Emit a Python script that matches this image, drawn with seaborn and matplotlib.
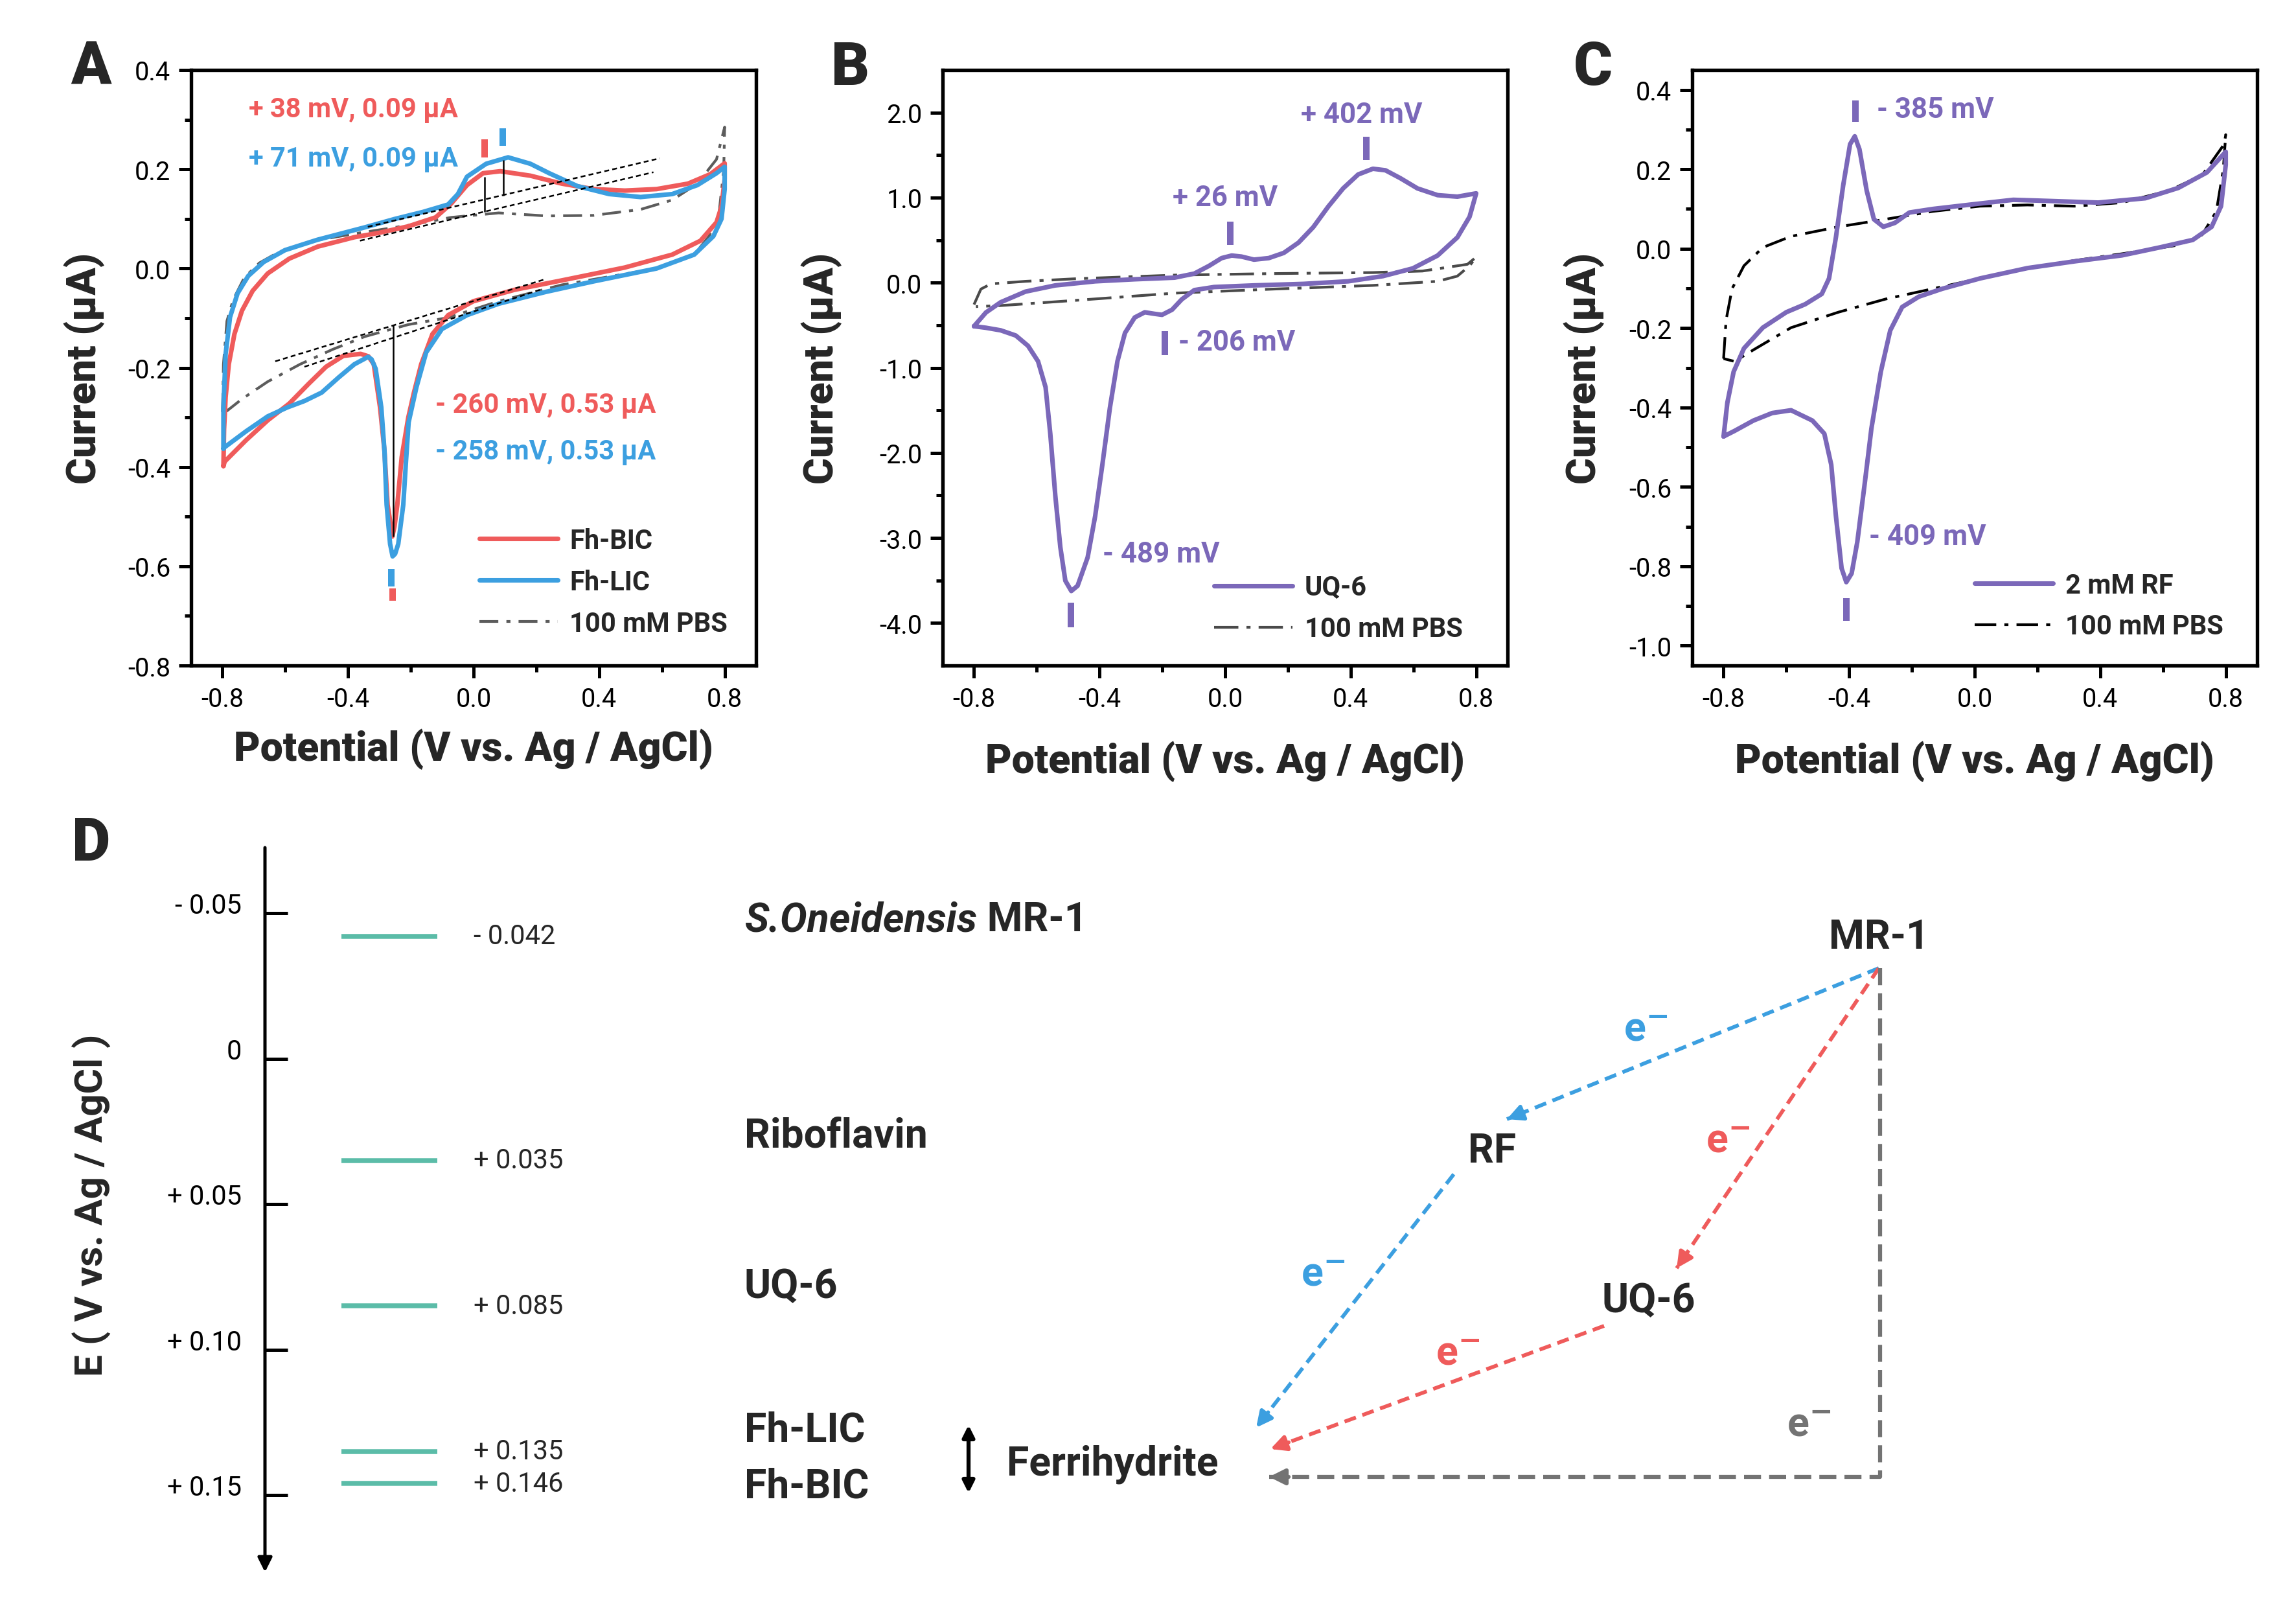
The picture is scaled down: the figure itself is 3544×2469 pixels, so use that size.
import matplotlib.pyplot as plt
import numpy as np
import seaborn as sns

W, H = 3544, 2470  # output size in px (300 dpi)

RED = '#EF5B5B'
BLUE = '#3C9FE0'
PURPLE = '#7B68B9'
TEAL = '#5BBCA8'
ARROW_GRAY = '#737373'

# ---------------- A: Fh-BIC / Fh-LIC ----------------
a_bic_x = [-0.797, -0.795, -0.790, -0.780, -0.762, -0.738, -0.704, -0.656, -0.587, -0.497, -0.380,
           -0.300, -0.208, -0.121, -0.071, -0.021, 0.030, 0.085, 0.181, 0.281, 0.382, 0.482, 0.583,
           0.683, 0.754, 0.800, 0.800, 0.790, 0.774, 0.723, 0.633, 0.482, 0.281, 0.130, -0.001,
           -0.081, -0.131, -0.167, -0.190, -0.208, -0.229, -0.243, -0.252, -0.259, -0.268, -0.274,
           -0.284, -0.298, -0.318, -0.335, -0.360, -0.415, -0.470, -0.525, -0.587, -0.656, -0.725,
           -0.793, -0.797]
a_bic_y = [-0.398, -0.324, -0.259, -0.193, -0.132, -0.085, -0.045, -0.010, 0.020, 0.044, 0.063,
           0.072, 0.085, 0.103, 0.131, 0.168, 0.192, 0.196, 0.187, 0.171, 0.160, 0.157, 0.160,
           0.171, 0.190, 0.212, 0.180, 0.125, 0.093, 0.056, 0.028, 0.002, -0.024, -0.043, -0.066,
           -0.094, -0.132, -0.193, -0.250, -0.300, -0.380, -0.476, -0.520, -0.540, -0.500, -0.476,
           -0.367, -0.280, -0.193, -0.177, -0.172, -0.176, -0.198, -0.232, -0.272, -0.306, -0.346,
           -0.389, -0.398]

a_lic_x = [-0.797, -0.797, -0.790, -0.776, -0.752, -0.718, -0.669, -0.601, -0.497, -0.346, -0.250,
           -0.161, -0.081, -0.050, -0.021, 0.040, 0.110, 0.181, 0.241, 0.331, 0.432, 0.532, 0.633,
           0.713, 0.774, 0.800, 0.800, 0.790, 0.764, 0.703, 0.583, 0.382, 0.231, 0.080, -0.021,
           -0.101, -0.151, -0.182, -0.207, -0.215, -0.224, -0.240, -0.250, -0.258, -0.266, -0.277,
           -0.284, -0.294, -0.312, -0.325, -0.336, -0.380, -0.429, -0.484, -0.539, -0.594, -0.656,
           -0.725, -0.793, -0.797]
a_lic_y = [-0.363, -0.280, -0.172, -0.098, -0.050, -0.015, 0.013, 0.037, 0.058, 0.083, 0.100,
           0.114, 0.129, 0.150, 0.185, 0.211, 0.224, 0.211, 0.192, 0.166, 0.150, 0.144, 0.150,
           0.168, 0.192, 0.205, 0.160, 0.100, 0.065, 0.028, 0.000, -0.026, -0.047, -0.071, -0.094,
           -0.122, -0.169, -0.239, -0.310, -0.385, -0.476, -0.555, -0.575, -0.580, -0.555, -0.476,
           -0.367, -0.280, -0.202, -0.183, -0.178, -0.193, -0.219, -0.250, -0.267, -0.280, -0.298,
           -0.328, -0.360, -0.363]

a_pbs_x = [-0.800, -0.797, -0.786, -0.766, -0.731, -0.683, -0.621, -0.518, -0.380, -0.208, -0.071,
           0.080, 0.231, 0.382, 0.532, 0.633, 0.713, 0.774, 0.800, 0.797, 0.781, 0.749, 0.703,
           0.583, 0.281, 0.080, -0.081, -0.208, -0.346, -0.449, -0.553, -0.656, -0.738, -0.786,
           -0.800]
a_pbs_y = [-0.289, -0.193, -0.106, -0.063, -0.019, 0.011, 0.033, 0.055, 0.070, 0.087, 0.103,
           0.112, 0.106, 0.107, 0.119, 0.138, 0.171, 0.220, 0.285, 0.199, 0.105, 0.064, 0.028,
           0.000, -0.033, -0.066, -0.099, -0.113, -0.137, -0.163, -0.193, -0.228, -0.263, -0.287,
           -0.289]

# baselines (dashed) and peak-height lines
a_base_x = [[-0.337, 0.593], [-0.362, 0.573], [-0.632, 0.226], [-0.539, 0.211]]
a_base_y = [[0.084, 0.222], [0.056, 0.194], [-0.187, -0.022], [-0.198, -0.043]]
a_vline_x = [0.035, 0.095, -0.255]
a_vline_y0 = [0.114, 0.147, -0.115]
a_vline_y1 = [0.185, 0.219, -0.540]
a_mark_x = [0.035, 0.093, -0.262, -0.259]
a_mark_y0 = [0.224, 0.247, -0.605, -0.644]
a_mark_y1 = [0.260, 0.283, -0.641, -0.670]
a_mark_c = [RED, BLUE, BLUE, RED]
a_notes = ['+ 38 mV, 0.09 µA', '+ 71 mV, 0.09 µA', '- 260 mV, 0.53 µA', '- 258 mV, 0.53 µA']
a_note_x = [-0.716, -0.716, -0.122, -0.122]
a_note_y = [0.321, 0.222, -0.274, -0.368]
a_note_c = [RED, BLUE, RED, BLUE]

# ---------------- B: UQ-6 ----------------
b_uq_x = [-0.800, -0.762, -0.715, -0.636, -0.541, -0.414, -0.288, -0.161, -0.098, -0.051, -0.011,
          0.021, 0.052, 0.092, 0.139, 0.187, 0.234, 0.281, 0.329, 0.376, 0.424, 0.471, 0.511,
          0.558, 0.613, 0.677, 0.740, 0.800, 0.779, 0.740, 0.677, 0.598, 0.503, 0.392, 0.250,
          0.092, -0.035, -0.098, -0.138, -0.169, -0.201, -0.225, -0.256, -0.288, -0.319, -0.343,
          -0.367, -0.391, -0.414, -0.438, -0.470, -0.490, -0.509, -0.525, -0.541, -0.557, -0.572,
          -0.596, -0.628, -0.667, -0.715, -0.762, -0.800]
b_uq_y = [-0.512, -0.350, -0.230, -0.105, -0.032, 0.016, 0.040, 0.059, 0.107, 0.198, 0.289,
          0.319, 0.307, 0.271, 0.289, 0.350, 0.471, 0.653, 0.896, 1.108, 1.272, 1.339, 1.321,
          1.229, 1.108, 1.029, 1.011, 1.050, 0.775, 0.532, 0.319, 0.168, 0.077, 0.016, -0.014,
          -0.032, -0.051, -0.087, -0.196, -0.318, -0.378, -0.366, -0.348, -0.409, -0.591, -0.924,
          -1.470, -2.138, -2.744, -3.230, -3.563, -3.624, -3.503, -3.108, -2.502, -1.774, -1.228,
          -0.924, -0.742, -0.621, -0.560, -0.530, -0.512]
b_pbs_x = [-0.800, -0.778, -0.746, -0.636, -0.477, -0.161, 0.155, 0.471, 0.629, 0.772, 0.800,
           0.779, 0.740, 0.677, 0.471, 0.155, -0.161, -0.477, -0.715, -0.794]
b_pbs_y = [-0.257, -0.075, -0.014, 0.016, 0.046, 0.089, 0.107, 0.119, 0.137, 0.216, 0.301,
           0.198, 0.077, 0.016, -0.032, -0.075, -0.123, -0.208, -0.269, -0.281]
b_mark_x = [0.450, 0.017, -0.193, -0.492]
b_mark_y0 = [1.442, 0.441, -0.572, -3.764]
b_mark_y1 = [1.715, 0.714, -0.851, -4.049]
b_notes = ['+ 402 mV', '+ 26 mV', '- 206 mV', '- 489 mV']
b_note_x = [0.436, 0.000, -0.149, -0.391]
b_note_y = [1.976, 1.000, -0.700, -3.187]
b_note_ha = ['center', 'center', 'left', 'left']

# ---------------- C: riboflavin ----------------
c_rf_x = [-0.800, -0.788, -0.768, -0.735, -0.675, -0.600, -0.540, -0.487, -0.464, -0.442, -0.419,
          -0.397, -0.382, -0.367, -0.344, -0.321, -0.291, -0.254, -0.208, -0.133, -0.013, 0.123,
          0.243, 0.394, 0.544, 0.649, 0.740, 0.800, 0.800, 0.785, 0.755, 0.695, 0.589, 0.469,
          0.318, 0.168, 0.017, -0.103, -0.178, -0.231, -0.269, -0.299, -0.329, -0.351, -0.374,
          -0.392, -0.409, -0.424, -0.442, -0.457, -0.479, -0.517, -0.585, -0.645, -0.705, -0.765,
          -0.800]
c_rf_y = [-0.473, -0.388, -0.310, -0.251, -0.199, -0.160, -0.140, -0.114, -0.075, 0.029, 0.159,
          0.263, 0.283, 0.250, 0.146, 0.074, 0.055, 0.065, 0.091, 0.100, 0.111, 0.123,
          0.120, 0.116, 0.127, 0.153, 0.192, 0.244, 0.211, 0.107, 0.055, 0.022, 0.003, -0.017,
          -0.032, -0.049, -0.075, -0.101, -0.121, -0.147, -0.206, -0.310, -0.453, -0.596, -0.739,
          -0.818, -0.840, -0.805, -0.674, -0.544, -0.466, -0.433, -0.407, -0.414, -0.433, -0.459,
          -0.473]
c_pbs_x = [-0.800, -0.792, -0.773, -0.735, -0.675, -0.585, -0.434, -0.284, -0.133, 0.017, 0.168,
           0.318, 0.469, 0.619, 0.725, 0.795, 0.800, 0.792, 0.770, 0.725, 0.649, 0.469, 0.318,
           0.168, 0.017, -0.133, -0.284, -0.434, -0.585, -0.705, -0.765, -0.800]
c_pbs_y = [-0.277, -0.180, -0.101, -0.043, 0.003, 0.031, 0.055, 0.074, 0.094, 0.107, 0.110,
           0.107, 0.116, 0.146, 0.185, 0.263, 0.287, 0.198, 0.094, 0.035, 0.009, -0.013, -0.030,
           -0.049, -0.075, -0.101, -0.127, -0.160, -0.199, -0.255, -0.284, -0.277]
c_mark_x = [-0.380, -0.409]
c_mark_y0 = [0.319, -0.880]
c_mark_y1 = [0.374, -0.937]
c_notes = ['- 385 mV', '- 409 mV']
c_note_x = [-0.311, -0.336]
c_note_y = [0.351, -0.726]

# ---------------- D: potential ladder ----------------
d_ticks = [-0.05, 0.0, 0.05, 0.10, 0.15]
d_tick_labels = ['- 0.05', '0', '+ 0.05', '+ 0.10', '+ 0.15']
d_levels = [-0.042, 0.035, 0.085, 0.135, 0.146]
d_level_labels = ['- 0.042', '+ 0.035', '+ 0.085', '+ 0.135', '+ 0.146']

sns.set_style('ticks')
plt.rcParams['font.family'] = ['Roboto', 'DejaVu Sans']
plt.rcParams['axes.unicode_minus'] = False
plt.rcParams['axes.edgecolor'] = 'black'
plt.rcParams['xtick.color'] = 'black'
plt.rcParams['ytick.color'] = 'black'

fig = plt.figure(figsize=(W / 300, H / 300), dpi=300)


def cv_axes(left_px):
    return fig.add_axes([left_px / W, 1 - 1028 / H, 872 / W, 919 / H])


def style_cv(ax, ylim, ymaj, ymin, ylab_x, xlab_y):
    ax.set_xlim(-0.9, 0.9)
    ax.set_ylim(*ylim)
    ax.set_xticks([-0.8, -0.4, 0.0, 0.4, 0.8])
    ax.set_xticks([-0.6, -0.2, 0.2, 0.6], minor=True)
    ax.set_xticklabels(['%.1f' % v for v in [-0.8, -0.4, 0.0, 0.4, 0.8]])
    ax.set_yticks(ymaj)
    ax.set_yticks(ymin, minor=True)
    ax.set_yticklabels(['%.1f' % v for v in ymaj])
    for s in ax.spines.values():
        s.set_visible(True)
        s.set_linewidth(1.3)
    ax.tick_params(which='both', direction='out', width=1.2, labelsize=9.5,
                   top=False, right=False)
    ax.tick_params(which='major', length=4.6, pad=3)
    ax.tick_params(which='minor', length=2.4)
    ax.set_xlabel('Potential (V vs. Ag / AgCl)', fontsize=15, fontweight='black')
    ax.set_ylabel('Current (µA)', fontsize=15, fontweight='black')
    ax.xaxis.set_label_coords(0.5, xlab_y)
    ax.yaxis.set_label_coords(ylab_x, 0.5)


def cv_legend(ax, handles, labels, anchor):
    ax.legend(handles, labels, loc='lower left', bbox_to_anchor=anchor, frameon=False,
              prop=dict(weight='bold', size=10), handlelength=2.9, handletextpad=0.45,
              labelspacing=0.55, borderpad=0, borderaxespad=0)


# ---- A ----
axA = cv_axes(295)
sns.lineplot(x=a_pbs_x, y=a_pbs_y, sort=False, estimator=None, ax=axA, color='#5c5c5c',
             linewidth=1.0, linestyle=(0, (7, 3, 1.5, 3)))
sns.lineplot(x=a_bic_x, y=a_bic_y, sort=False, estimator=None, ax=axA, color=RED, linewidth=1.7)
sns.lineplot(x=a_lic_x, y=a_lic_y, sort=False, estimator=None, ax=axA, color=BLUE, linewidth=1.7)
for bx, by in zip(a_base_x, a_base_y):
    axA.plot(bx, by, color='black', lw=0.6, linestyle=(0, (3, 2)))
axA.vlines(a_vline_x, a_vline_y0, a_vline_y1, color='black', lw=0.6)
axA.vlines(a_mark_x, a_mark_y0, a_mark_y1, colors=a_mark_c, lw=2.4)
for t, x, y, c in zip(a_notes, a_note_x, a_note_y, a_note_c):
    axA.text(x, y, t, color=c, fontsize=10, fontweight='bold', ha='left', va='center')
style_cv(axA, (-0.8, 0.4), [0.4, 0.2, 0.0, -0.2, -0.4, -0.6, -0.8],
         [0.3, 0.1, -0.1, -0.3, -0.5, -0.7], -0.152, -0.105)
lines = axA.get_lines()
cv_legend(axA, [lines[1], lines[2], lines[0]], ['Fh-BIC', 'Fh-LIC', '100 mM PBS'], (0.51, 0.048))

# ---- B ----
axB = cv_axes(1455)
sns.lineplot(x=b_pbs_x, y=b_pbs_y, sort=False, estimator=None, ax=axB, color='#4a4a4a',
             linewidth=1.0, linestyle=(0, (9, 3, 1.5, 3)))
sns.lineplot(x=b_uq_x, y=b_uq_y, sort=False, estimator=None, ax=axB, color=PURPLE, linewidth=1.7)
axB.vlines(b_mark_x, b_mark_y0, b_mark_y1, colors=PURPLE, lw=2.4)
for t, x, y, ha in zip(b_notes, b_note_x, b_note_y, b_note_ha):
    axB.text(x, y, t, color=PURPLE, fontsize=10.5, fontweight='bold', ha=ha, va='center')
style_cv(axB, (-4.5, 2.5), [2.0, 1.0, 0.0, -1.0, -2.0, -3.0, -4.0],
         [1.5, 0.5, -0.5, -1.5, -2.5, -3.5], -0.178, -0.126)
lines = axB.get_lines()
cv_legend(axB, [lines[1], lines[0]], ['UQ-6', '100 mM PBS'], (0.481, 0.039))

# ---- C ----
axC = cv_axes(2612)
sns.lineplot(x=c_pbs_x, y=c_pbs_y, sort=False, estimator=None, ax=axC, color='black',
             linewidth=1.0, linestyle=(0, (8, 3, 1.5, 3)))
sns.lineplot(x=c_rf_x, y=c_rf_y, sort=False, estimator=None, ax=axC, color=PURPLE, linewidth=1.7)
axC.vlines(c_mark_x, c_mark_y0, c_mark_y1, colors=PURPLE, lw=2.4)
for t, x, y in zip(c_notes, c_note_x, c_note_y):
    axC.text(x, y, t, color=PURPLE, fontsize=10.5, fontweight='bold', ha='left', va='center')
style_cv(axC, (-1.05, 0.45), [0.4, 0.2, 0.0, -0.2, -0.4, -0.6, -0.8, -1.0],
         [0.3, 0.1, -0.1, -0.3, -0.5, -0.7, -0.9], -0.155, -0.126)
lines = axC.get_lines()
cv_legend(axC, [lines[1], lines[0]], ['2 mM RF', '100 mM PBS'], (0.50, 0.043))

# ---- D: ladder axis (y in volts) ----
axD = fig.add_axes([409 / W, 1 - 2427 / H, (W - 409) / W, (2427 - 1309) / H])
axD.set_facecolor('none')
axD.set_xlim(409, W)
axD.set_ylim(0.1765, -0.0725)
for s in axD.spines.values():
    s.set_visible(False)
axD.set_xticks([])
axD.set_yticks(d_ticks)
axD.set_yticklabels(d_tick_labels)
axD.tick_params(axis='y', direction='in', length=8.4, width=1.2, pad=8.6, labelsize=10)
for tl in axD.get_yticklabels():
    tl.set_va('baseline')
axD.annotate('', xy=(0, 0), xytext=(0, 1), xycoords='axes fraction',
             arrowprops=dict(arrowstyle='-|>', color='black', lw=1.2, mutation_scale=11,
                             shrinkA=0, shrinkB=0))
axD.hlines(d_levels, 527, 675, color=TEAL, lw=1.8)
for v, lab in zip(d_levels, d_level_labels):
    axD.text(731, v, lab, fontsize=10, ha='left', va='center')

# ---- overlay in pixel coordinates for labels and the electron-transfer scheme ----
ov = fig.add_axes([0, 0, 1, 1])
ov.set_xlim(0, W)
ov.set_ylim(H, 0)
ov.axis('off')
ov.patch.set_alpha(0)

for letter, (x, y) in zip('ABCD', [(140, 105), (1313, 106), (2459, 106), (141, 1303)]):
    ov.text(x, y, letter, fontsize=22, fontweight='black', ha='center', va='center')

ov.text(142, 1860, 'E ( V vs. Ag / AgCl )', rotation=90, fontsize=14.5, fontweight='bold',
        ha='center', va='center')

t = ov.text(1149, 1420, 'S.Oneidensis', fontsize=15, fontweight='bold', style='italic',
            ha='left', va='center')
ov.annotate(' MR-1', xy=(1, 0), xycoords=t, fontsize=15, fontweight='bold', ha='left', va='bottom')
for name, y in [('Riboflavin', 1754), ('UQ-6', 1986), ('Fh-LIC', 2208), ('Fh-BIC', 2295)]:
    ov.text(1149, y, name, fontsize=15, fontweight='bold', ha='left', va='center')
ov.annotate('', xy=(1495, 2200), xytext=(1495, 2305),
            arrowprops=dict(arrowstyle='<|-|>', color='black', lw=1.5, mutation_scale=9,
                            shrinkA=0, shrinkB=0))
ov.text(1554, 2260, 'Ferrihydrite', fontsize=15, fontweight='bold', ha='left', va='center')
ov.text(2900, 1447, 'MR-1', fontsize=15, fontweight='bold', ha='center', va='center')
ov.text(2303, 1777, 'RF', fontsize=15, fontweight='bold', ha='center', va='center')
ov.text(2545, 2008, 'UQ-6', fontsize=15, fontweight='bold', ha='center', va='center')


def dashed_arrow(pts, color, dash, lw=1.4):
    xs = [p[0] for p in pts]
    ys = [p[1] for p in pts]
    ov.plot(xs, ys, color=color, lw=lw, linestyle=(0, dash), solid_capstyle='butt')
    (x0, y0), (x1, y1) = pts[-2], pts[-1]
    d = np.hypot(x1 - x0, y1 - y0)
    start = (x1 - (x1 - x0) / d * 30, y1 - (y1 - y0) / d * 30)
    ov.annotate('', xy=(x1, y1), xytext=start,
                arrowprops=dict(arrowstyle='-|>', color=color, lw=lw, mutation_scale=12,
                                shrinkA=0, shrinkB=0))


dashed_arrow([(2900, 1495), (2326, 1728)], BLUE, (3.2, 1.8))
dashed_arrow([(2244, 1813), (1939, 2204)], BLUE, (3.2, 1.8))
dashed_arrow([(2900, 1495), (2588, 1958)], RED, (3.2, 1.8))
dashed_arrow([(2476, 2047), (1961, 2237)], RED, (3.2, 1.8))
dashed_arrow([(2902, 1495), (2902, 2280), (1959, 2280)], ARROW_GRAY, (4.2, 2.0), lw=1.5)

for (x, y), c in zip([(2540, 1590), (2667, 1762), (2042, 1968), (2250, 2090), (2792, 2200)],
                     [BLUE, RED, BLUE, RED, ARROW_GRAY]):
    ov.text(x, y, 'e$^{\\mathbf{-}}$', color=c, fontsize=15, fontweight='bold',
            ha='center', va='center')

fig.savefig('out.png', dpi=300)
